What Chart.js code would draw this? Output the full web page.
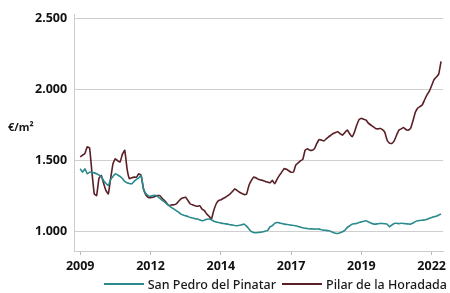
<!DOCTYPE html>
<html>
<head>
<meta charset="utf-8">
<script src="https://cdn.jsdelivr.net/npm/chart.js@4/dist/chart.umd.min.js"></script>
<style>
  html, body { margin: 0; padding: 0; background: #fff; }
  #wrap { position: relative; width: 450px; height: 293px; }
  #legend { position: absolute; right: 3px; top: 275px; height: 18px; display: flex; align-items: center;
            font: 500 12.5px 'Noto Sans', sans-serif; color: #1a1a1a; white-space: nowrap; }
  #legend .item { display: flex; align-items: center; margin-left: 6px; }
  #legend .swatch { width: 40px; height: 2px; margin-right: 4px; }
</style>
</head>
<body>
<div id="wrap">
  <canvas id="chart" width="450" height="293"></canvas>
  <div id="legend"></div>
</div>
<script>
// monthly series, Jan 2009 onwards (euros per square metre)
const sanPedro = [
  1444, 1420, 1444, 1409, 1420, 1420, 1415, 1409, 1400, 1390,
  1360, 1340, 1326, 1370, 1390, 1409, 1400, 1390, 1375, 1355,
  1345, 1340, 1338, 1355, 1370, 1380, 1397, 1303, 1270, 1255,
  1250, 1255, 1258, 1250, 1235, 1222, 1210, 1195, 1184, 1170,
  1160, 1149, 1138, 1125, 1118, 1113, 1108, 1101, 1098, 1092,
  1090, 1084, 1078, 1082, 1088, 1090, 1085, 1075, 1070, 1066,
  1062, 1058, 1056, 1054, 1050, 1048, 1045, 1043, 1046, 1050,
  1054, 1040, 1020, 1003, 995, 993, 995, 997, 1000, 1005,
  1010, 1035, 1043, 1060, 1066, 1063, 1058, 1054, 1052, 1050,
  1047, 1045, 1043, 1038, 1033, 1028, 1025, 1023, 1020, 1021,
  1019, 1020, 1019, 1015, 1012, 1010, 1007, 1002, 995, 990,
  988, 994, 1000, 1012, 1031, 1042, 1054, 1057, 1059, 1065,
  1070, 1075, 1078, 1070, 1062, 1056, 1054, 1057, 1059, 1059,
  1057, 1054, 1035, 1048, 1059, 1060, 1058, 1060, 1059, 1057,
  1055, 1054, 1062, 1072, 1078, 1080, 1082, 1083, 1088, 1095,
  1101, 1106, 1110, 1118, 1125
];
const pilar = [
  1527, 1540, 1551, 1598, 1590, 1420, 1267, 1255, 1376, 1397,
  1340, 1290, 1267, 1376, 1480, 1515, 1500, 1491, 1545, 1574,
  1444, 1374, 1380, 1385, 1385, 1409, 1397, 1303, 1260, 1243,
  1240, 1243, 1250, 1255, 1255, 1235, 1220, 1200, 1184, 1190,
  1190, 1196, 1215, 1232, 1240, 1243, 1220, 1196, 1190, 1184,
  1180, 1184, 1160, 1149, 1125, 1110, 1090, 1150, 1196, 1220,
  1225, 1235, 1243, 1255, 1267, 1285, 1303, 1290, 1279, 1270,
  1262, 1265, 1326, 1360, 1385, 1380, 1370, 1365, 1362, 1355,
  1350, 1345, 1362, 1338, 1370, 1397, 1420, 1445, 1440, 1430,
  1420, 1420, 1470, 1485, 1500, 1510, 1575, 1585, 1575, 1574,
  1586, 1622, 1650, 1645, 1640, 1655, 1669, 1680, 1692, 1700,
  1704, 1690, 1681, 1700, 1716, 1690, 1669, 1700, 1750, 1790,
  1799, 1792, 1787, 1765, 1752, 1740, 1728, 1725, 1728, 1720,
  1700, 1645, 1625, 1622, 1640, 1680, 1716, 1725, 1735, 1720,
  1716, 1728, 1780, 1840, 1870, 1882, 1893, 1930, 1964, 1990,
  2030, 2071, 2090, 2110, 2200
];
const seriesNames = ["San Pedro del Pinatar", "Pilar de la Horadada"];
const seriesColors = ["#2a8a8c", "#5a1f26"];
const xTickPos = [0, 30, 60, 90, 120, 150];
const xTickLabels = ["2009", "2012", "2014", "2017", "2019", "2022"];
const yTicks = [1000, 1500, 2000, 2500];

const toPoints = arr => arr.map((v, i) => ({ x: i, y: v }));
const fmt = v => String(v).replace(/\B(?=(\d{3})+(?!\d))/g, ".");

const unitLabel = {
  id: "unitLabel",
  afterDraw(chart) {
    const c = chart.ctx;
    c.save();
    c.font = "bold 11px 'Noto Sans'";
    c.fillStyle = "#1a1a1a";
    c.textBaseline = "middle";
    c.fillText("€/m²", 8, 128);
    c.restore();
  }
};

const chart = new Chart(document.getElementById("chart"), {
  type: "line",
  data: {
    datasets: [
      { label: seriesNames[0], data: toPoints(sanPedro), borderColor: seriesColors[0], borderWidth: 1.6, pointRadius: 0, tension: 0.1 },
      { label: seriesNames[1], data: toPoints(pilar), borderColor: seriesColors[1], borderWidth: 1.6, pointRadius: 0, tension: 0.1 }
    ]
  },
  options: {
    responsive: false,
    animation: false,
    layout: { padding: { left: 28, right: 1, top: 10, bottom: 15 } },
    plugins: {
      tooltip: { enabled: false },
      legend: { display: false }
    },
    scales: {
      x: {
        type: "linear",
        min: -2.6,
        max: 154.9,
        afterBuildTicks: s => { s.ticks = xTickPos.map(v => ({ value: v })); },
        ticks: {
          callback: (v) => xTickLabels[xTickPos.indexOf(v)],
          color: "#111",
          font: { family: "Noto Sans", size: 12.5, weight: "bold" },
          maxRotation: 0,
          padding: 4
        },
        grid: { drawOnChartArea: false, drawTicks: true, tickLength: 4, color: "#bbb" },
        border: { color: "#ccc" }
      },
      y: {
        min: 865,
        max: 2530,
        afterBuildTicks: s => { s.ticks = yTicks.map(v => ({ value: v })); },
        ticks: {
          callback: v => fmt(v),
          color: "#111",
          font: { family: "Noto Sans", size: 12.5, weight: "bold" },
          padding: 7
        },
        grid: { color: "#cfcfcf", drawTicks: false },
        border: { color: "#ccc" }
      }
    }
  },
  plugins: [unitLabel]
});

// legend in HTML, built from the datasets
const legendEl = document.getElementById("legend");
chart.data.datasets.forEach(ds => {
  const item = document.createElement("span");
  item.className = "item";
  item.innerHTML = `<span class="swatch" style="background:${ds.borderColor}"></span>${ds.label}`;
  legendEl.appendChild(item);
});
</script>
</body>
</html>
